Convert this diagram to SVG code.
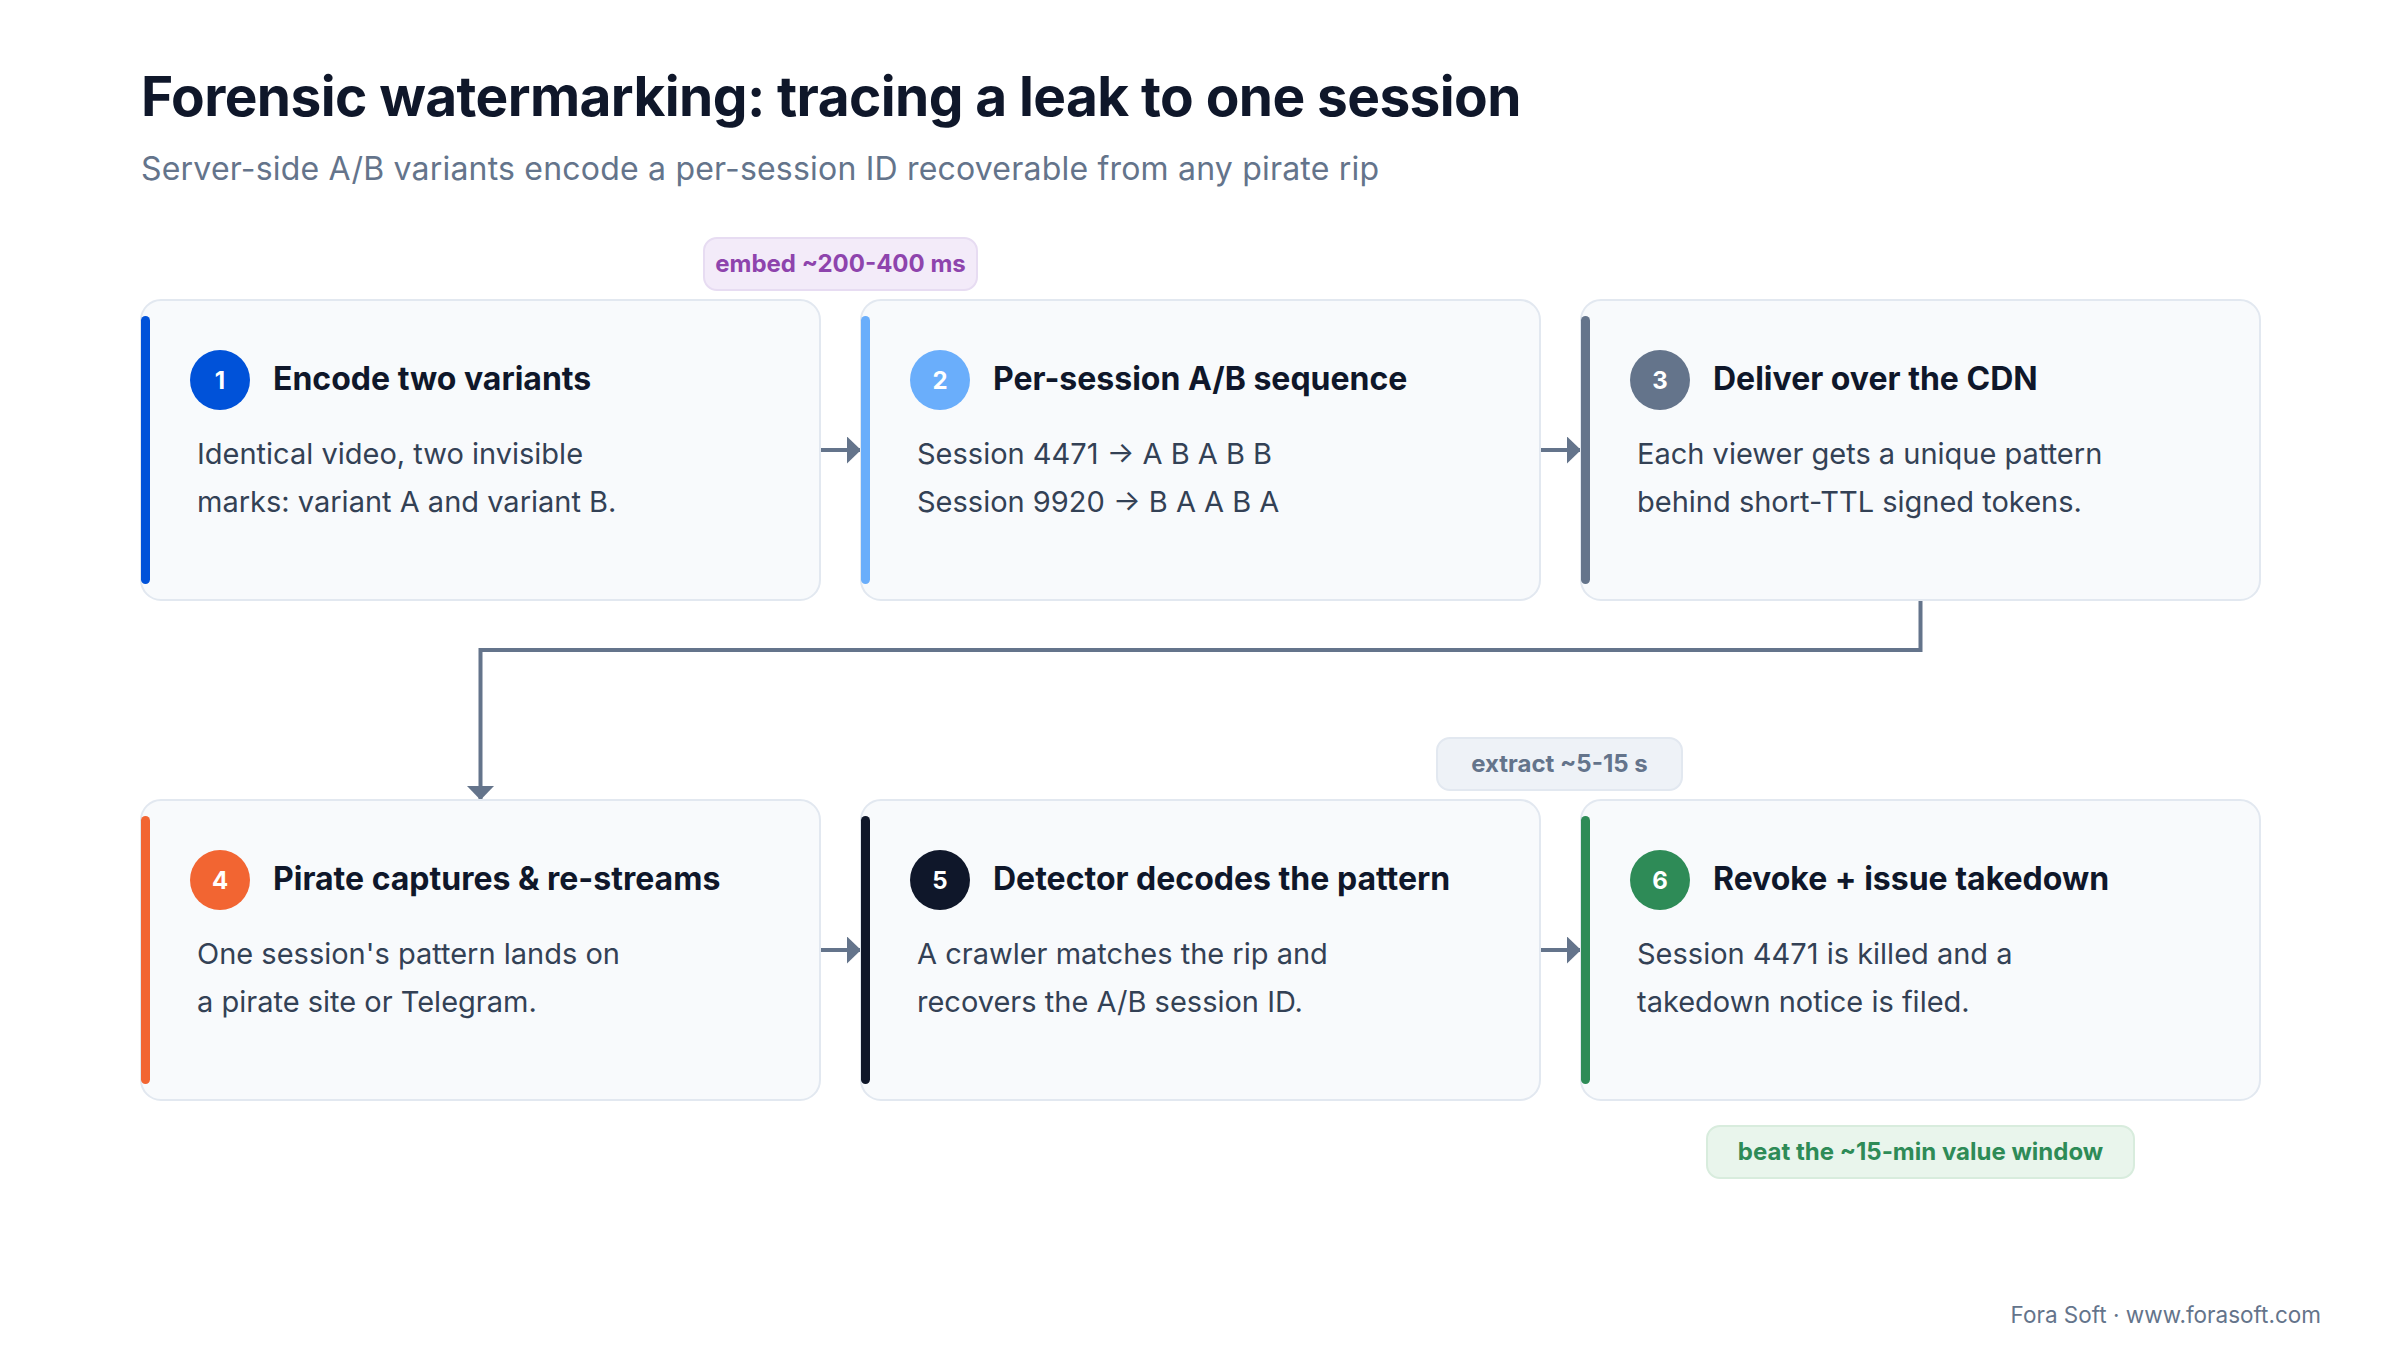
<svg xmlns="http://www.w3.org/2000/svg" width="2400" height="1360" viewBox="0 0 2400 1360">
<style>
text{font-family:Inter,"Liberation Sans",Arial,sans-serif}
.title{font-size:55px;font-weight:700;fill:#0f172a;letter-spacing:-0.6px}
.sub{font-size:32px;fill:#64748b;letter-spacing:0.2px}
.card{fill:#f8fafc;stroke:#e2e8f0;stroke-width:2}
.ct{font-size:32px;font-weight:700;fill:#0f172a}
.body{font-size:29px;fill:#334155}
.num{font-size:24px;font-weight:700;fill:#ffffff;text-anchor:middle}
.conn{fill:none;stroke:#64748b;stroke-width:4}
.pill{stroke-width:2}
.pt{font-size:24px;font-weight:700;text-anchor:middle}
.foot{font-size:22.5px;fill:#64748b;text-anchor:end}
</style>
<defs>
<marker id="ah" markerUnits="userSpaceOnUse" viewBox="0 0 14 27" refX="14" refY="13.5" markerWidth="14" markerHeight="27" orient="auto">
<path d="M0,0 L14,13.5 L0,27 Z" fill="#64748b"/>
</marker>
</defs>
<rect width="2400" height="1360" fill="#ffffff"/>
<text class="title" x="141" y="116">Forensic watermarking: tracing a leak to one session</text>
<text class="sub" x="141" y="180">Server-side A/B variants encode a per-session ID recoverable from any pirate rip</text>

<g id="connectors">
<path class="conn" d="M820,450 H861" marker-end="url(#ah)"/>
<path class="conn" d="M1540,450 H1581" marker-end="url(#ah)"/>
<path class="conn" d="M1920.5,600 V650 H480.5 V800" marker-end="url(#ah)"/>
<path class="conn" d="M820,950 H861" marker-end="url(#ah)"/>
<path class="conn" d="M1540,950 H1581" marker-end="url(#ah)"/>
</g>

<g id="node1">
<rect class="card" x="141" y="300" width="679" height="300" rx="20"/>
<rect x="141" y="316" width="9" height="268" rx="4.5" fill="#0052d9"/>
<circle cx="220" cy="380" r="30" fill="#0052d9"/>
<text class="num" x="220" y="389">1</text>
<text class="ct" x="273" y="390">Encode two variants</text>
<text class="body" x="197" y="464">Identical video, two invisible</text>
<text class="body" x="197" y="512">marks: variant A and variant B.</text>
</g>
<g id="node2">
<rect class="card" x="861" y="300" width="679" height="300" rx="20"/>
<rect x="861" y="316" width="9" height="268" rx="4.5" fill="#6aaefb"/>
<circle cx="940" cy="380" r="30" fill="#6aaefb"/>
<text class="num" x="940" y="389">2</text>
<text class="ct" x="993" y="390">Per-session A/B sequence</text>
<text class="body" x="917" y="464">Session 4471 → A B A B B</text>
<text class="body" x="917" y="512">Session 9920 → B A A B A</text>
</g>
<g id="node3">
<rect class="card" x="1581" y="300" width="679" height="300" rx="20"/>
<rect x="1581" y="316" width="9" height="268" rx="4.5" fill="#64748b"/>
<circle cx="1660" cy="380" r="30" fill="#64748b"/>
<text class="num" x="1660" y="389">3</text>
<text class="ct" x="1713" y="390">Deliver over the CDN</text>
<text class="body" x="1637" y="464">Each viewer gets a unique pattern</text>
<text class="body" x="1637" y="512">behind short-TTL signed tokens.</text>
</g>
<g id="node4">
<rect class="card" x="141" y="800" width="679" height="300" rx="20"/>
<rect x="141" y="816" width="9" height="268" rx="4.5" fill="#f26532"/>
<circle cx="220" cy="880" r="30" fill="#f26532"/>
<text class="num" x="220" y="889">4</text>
<text class="ct" x="273" y="890">Pirate captures &amp; re-streams</text>
<text class="body" x="197" y="964">One session's pattern lands on</text>
<text class="body" x="197" y="1012">a pirate site or Telegram.</text>
</g>
<g id="node5">
<rect class="card" x="861" y="800" width="679" height="300" rx="20"/>
<rect x="861" y="816" width="9" height="268" rx="4.5" fill="#0f172a"/>
<circle cx="940" cy="880" r="30" fill="#0f172a"/>
<text class="num" x="940" y="889">5</text>
<text class="ct" x="993" y="890">Detector decodes the pattern</text>
<text class="body" x="917" y="964">A crawler matches the rip and</text>
<text class="body" x="917" y="1012">recovers the A/B session ID.</text>
</g>
<g id="node6">
<rect class="card" x="1581" y="800" width="679" height="300" rx="20"/>
<rect x="1581" y="816" width="9" height="268" rx="4.5" fill="#2e8b57"/>
<circle cx="1660" cy="880" r="30" fill="#2e8b57"/>
<text class="num" x="1660" y="889">6</text>
<text class="ct" x="1713" y="890">Revoke + issue takedown</text>
<text class="body" x="1637" y="964">Session 4471 is killed and a</text>
<text class="body" x="1637" y="1012">takedown notice is filed.</text>
</g>

<g id="label-embed">
<rect class="pill" x="704" y="238" width="273" height="52" rx="13" fill="#f3ebf9" stroke="#e7dcf2"/>
<text class="pt" x="840.5" y="272" fill="#8e44ad">embed ~200-400 ms</text>
</g>
<g id="label-extract">
<rect class="pill" x="1437" y="738" width="245" height="52" rx="13" fill="#eef2f7" stroke="#e2e8f0"/>
<text class="pt" x="1559.5" y="772" fill="#64748b">extract ~5-15 s</text>
</g>
<g id="label-beat">
<rect class="pill" x="1707" y="1126" width="427" height="52" rx="13" fill="#e9f5ec" stroke="#d8ecdd"/>
<text class="pt" x="1920.5" y="1160" fill="#2e8b57">beat the ~15-min value window</text>
</g>
<text class="foot" x="2321" y="1323">Fora Soft · www.forasoft.com</text>
</svg>
